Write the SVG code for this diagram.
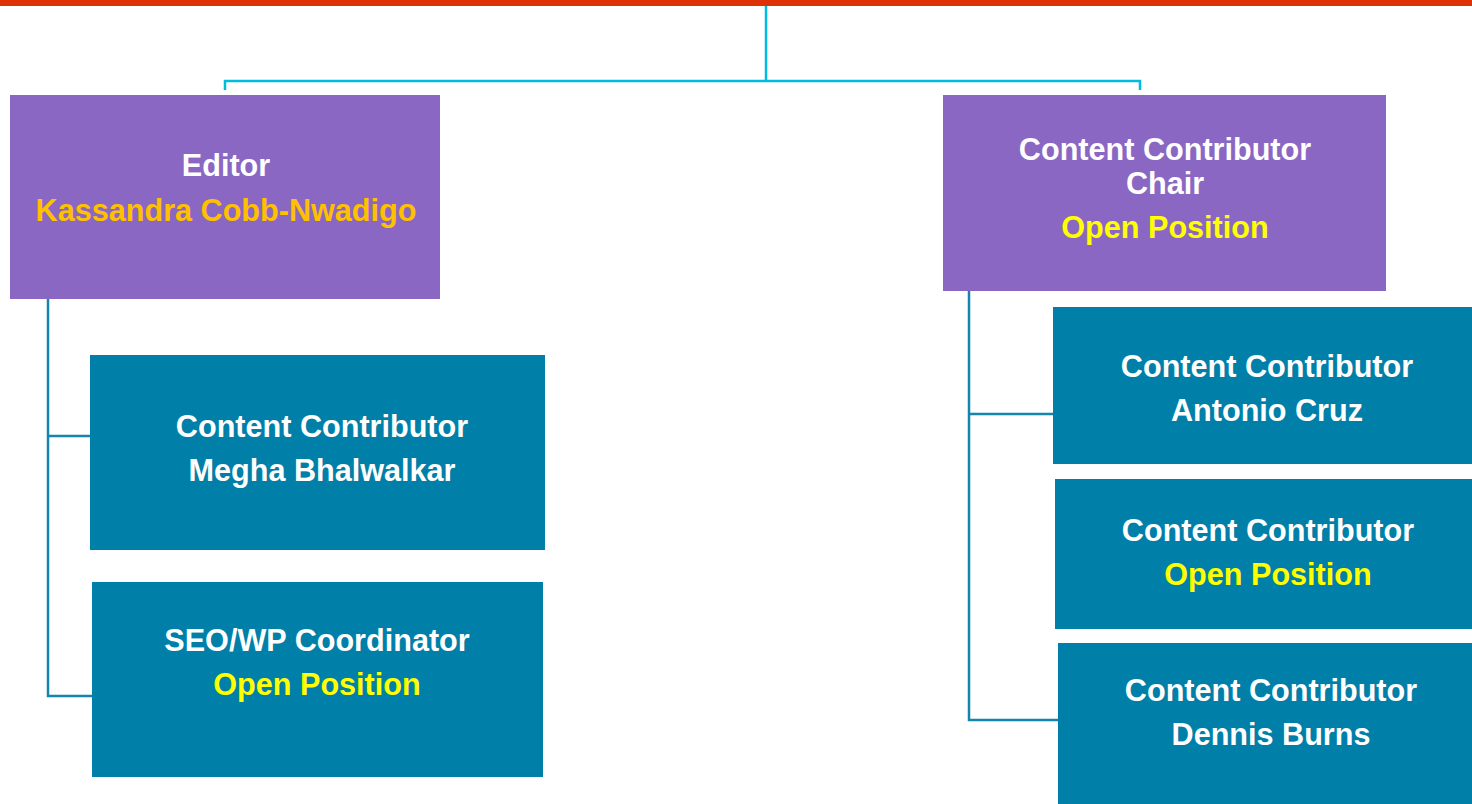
<svg xmlns="http://www.w3.org/2000/svg" width="1472" height="804" viewBox="0 0 1472 804">
<style>
.top{fill:#8A67C3}
.sub{fill:#0080A8}
.t{font-family:"Liberation Sans",Arial,sans-serif;font-weight:bold;font-size:30.6px;text-anchor:middle;fill:#FFFFFF}
.n{fill:#FFC000}
.o{fill:#FFFF00}
.c1{fill:none;stroke:#00BCDF;stroke-width:2.5}
.c2{fill:none;stroke:#1486AE;stroke-width:2.5}
</style>
<rect x="0" y="0" width="1472" height="6" fill="#DD3108"/>
<g id="connectors">
<path class="c1" d="M766 6V81M225 90V81H1140V90"/>
<path class="c2" d="M48 299V696H92M48 436H90"/>
<path class="c2" d="M969 291V720H1058M969 414H1053"/>
</g>
<g id="editor">
<rect class="top" x="10" y="95" width="430" height="204"/>
<text class="t" x="226" y="176">Editor</text>
<text class="t n" x="226" y="221">Kassandra Cobb-Nwadigo</text>
</g>
<g id="chair">
<rect class="top" x="943" y="95" width="443" height="196"/>
<text class="t" x="1165" y="160">Content Contributor</text>
<text class="t" x="1165" y="194">Chair</text>
<text class="t o" x="1165" y="238">Open Position</text>
</g>
<g id="megha">
<rect class="sub" x="90" y="355" width="455" height="195"/>
<text class="t" x="322" y="437">Content Contributor</text>
<text class="t" x="322" y="481">Megha Bhalwalkar</text>
</g>
<g id="seo">
<rect class="sub" x="92" y="582" width="451" height="195"/>
<text class="t" x="317" y="651">SEO/WP Coordinator</text>
<text class="t o" x="317" y="695">Open Position</text>
</g>
<g id="antonio">
<rect class="sub" x="1053" y="307" width="419" height="157"/>
<text class="t" x="1267" y="377">Content Contributor</text>
<text class="t" x="1267" y="421">Antonio Cruz</text>
</g>
<g id="open">
<rect class="sub" x="1055" y="479" width="417" height="150"/>
<text class="t" x="1268" y="541">Content Contributor</text>
<text class="t o" x="1268" y="585">Open Position</text>
</g>
<g id="dennis">
<rect class="sub" x="1058" y="643" width="414" height="161"/>
<text class="t" x="1271" y="701">Content Contributor</text>
<text class="t" x="1271" y="745">Dennis Burns</text>
</g>
</svg>
